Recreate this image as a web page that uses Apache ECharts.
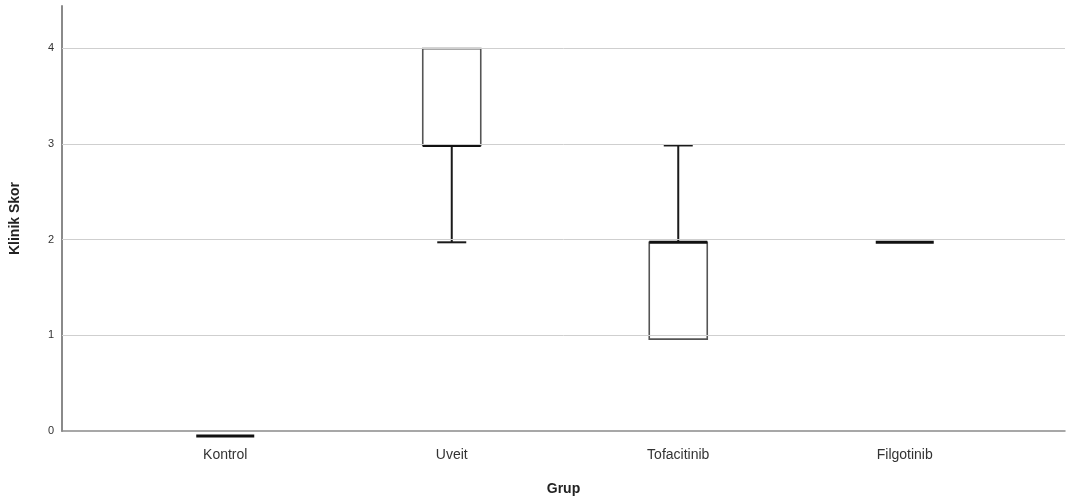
<!DOCTYPE html>
<html lang="tr">
<head>
  <meta charset="UTF-8" />
  <title>Klinik Skor</title>
  <script src="https://cdn.jsdelivr.net/npm/echarts@6/dist/echarts.min.js"></script>
  <style>
    html, body { margin: 0; padding: 0; background: #fff; }
  </style>
</head>
<body>
  <div id="main" style="width:1068px; height:501px;"></div>
  <script type="text/javascript">
    // gruplar
    const categories = ['Kontrol', 'Uveit', 'Tofacitinib', 'Filgotinib'];
    // kutu grafiği değerleri
    const minVals    = [0, 2, 1, 2];
    const q1Vals     = [0, 3, 1, 2];
    const medianVals = [0, 3, 2, 2];
    const q3Vals     = [0, 4, 2, 2];
    const maxVals    = [0, 4, 3, 2];
    const yTicks     = [0, 1, 2, 3, 4];

    const font = 'Liberation Sans, Arial, sans-serif';
    const yMax = 4.44;
    const boxW = 58;

    const boxData = categories.map((c, i) =>
      [i, minVals[i], q1Vals[i], medianVals[i], q3Vals[i], maxVals[i]]);

    // SPSS tarzı kutu: gri kenar, siyah bıyık ve kalın medyan
    function renderBox(params, api) {
      const x = api.value(0);
      const pMin = api.coord([x, api.value(1)]);
      const pQ1 = api.coord([x, api.value(2)]);
      const pMed = api.coord([x, api.value(3)]);
      const pQ3 = api.coord([x, api.value(4)]);
      const pMax = api.coord([x, api.value(5)]);
      const cx = pMed[0];
      const hw = boxW / 2, cw = boxW / 4;
      const children = [];
      const whisker = { stroke: '#1a1a1a', lineWidth: 2 };
      if (pMax[1] < pQ3[1]) {
        children.push({ type: 'line', shape: { x1: cx, y1: pQ3[1], x2: cx, y2: pMax[1] }, style: whisker });
        children.push({ type: 'line', shape: { x1: cx - cw, y1: pMax[1], x2: cx + cw, y2: pMax[1] }, style: whisker });
      }
      if (pMin[1] > pQ1[1]) {
        children.push({ type: 'line', shape: { x1: cx, y1: pQ1[1], x2: cx, y2: pMin[1] }, style: whisker });
        children.push({ type: 'line', shape: { x1: cx - cw, y1: pMin[1], x2: cx + cw, y2: pMin[1] }, style: whisker });
      }
      if (pQ1[1] > pQ3[1]) {
        children.push({
          type: 'rect',
          shape: { x: cx - hw, y: pQ3[1], width: boxW, height: pQ1[1] - pQ3[1] },
          style: { fill: '#fff', stroke: '#555', lineWidth: 1.6 }
        });
      }
      children.push({
        type: 'line',
        shape: { x1: cx - hw, y1: pMed[1], x2: cx + hw, y2: pMed[1] },
        style: { stroke: '#111', lineWidth: 3 }
      });
      return { type: 'group', children: children };
    }

    const chart = echarts.init(document.getElementById('main'));
    chart.setOption({
      animation: false,
      backgroundColor: '#fff',
      grid: [
        // arka plan: eksen çizgileri ve yatay ızgara
        { left: 62, right: 3, top: 6, bottom: 65 },
        // kutular
        { left: 112, right: 50, top: 6, bottom: 65 }
      ],
      xAxis: [
        {
          gridIndex: 0, type: 'value', min: 0, max: 1,
          name: 'Grup', nameLocation: 'middle', nameGap: 51,
          nameTextStyle: { fontFamily: font, fontSize: 14, fontWeight: 'bold', color: '#222' },
          axisLine: { show: true, lineStyle: { color: '#8a8a8a', width: 1.5 } },
          axisTick: { show: false }, axisLabel: { show: false }, splitLine: { show: false }
        },
        {
          gridIndex: 1, type: 'category', data: categories,
          axisLine: { show: false }, axisTick: { show: false },
          axisLabel: { fontFamily: font, fontSize: 14, color: '#333', margin: 12 }
        }
      ],
      yAxis: [
        {
          gridIndex: 0, type: 'value', min: 0, max: yMax, interval: 1,
          name: 'Klinik Skor', nameLocation: 'middle', nameGap: 40,
          nameTextStyle: { fontFamily: font, fontSize: 14, fontWeight: 'bold', color: '#222' },
          axisLine: { show: true, lineStyle: { color: '#8a8a8a', width: 2 } },
          axisTick: { show: false },
          axisLabel: {
            fontFamily: font, fontSize: 11, color: '#333', margin: 8, showMaxLabel: false,
            formatter: v => (yTicks.includes(v) ? String(v) : '')
          },
          splitLine: { show: false }
        },
        {
          gridIndex: 1, type: 'value', min: 0, max: yMax, interval: 1, show: false
        }
      ],
      series: [
        {
          // yatay ızgara çizgileri (0 hariç)
          type: 'line', xAxisIndex: 0, yAxisIndex: 0, data: [],
          markLine: {
            silent: true, symbol: 'none', label: { show: false },
            lineStyle: { color: '#cfcfcf', width: 1, type: 'solid' },
            data: yTicks.filter(v => v > 0).map(v => ({ yAxis: v }))
          },
          z: 1
        },
        {
          type: 'custom', xAxisIndex: 1, yAxisIndex: 1,
          data: boxData,
          renderItem: renderBox,
          encode: { x: 0, y: [1, 2, 3, 4, 5] },
          z: 3
        }
      ]
    });
  </script>
</body>
</html>
